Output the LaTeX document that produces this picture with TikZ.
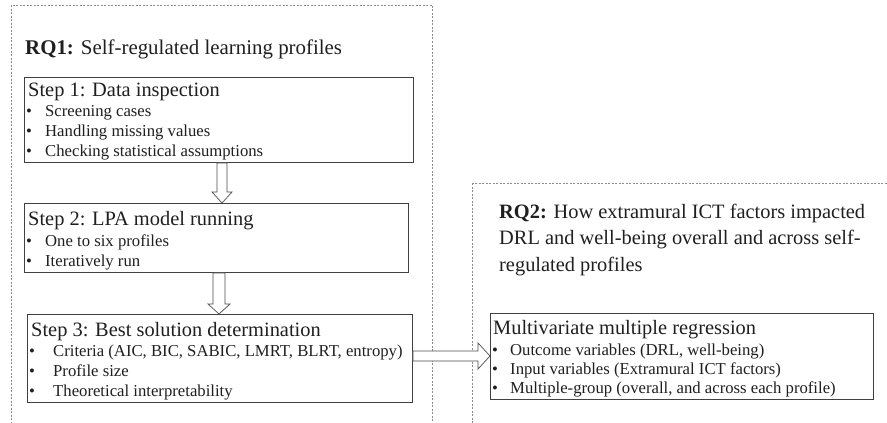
\documentclass[tikz,border=0pt]{standalone}
\usepackage{fontspec}
\setmainfont{Liberation Serif}
\usetikzlibrary{calc}
\begin{document}
\begin{tikzpicture}[x=1pt,y=-1pt,
  stepbox/.style={draw=black!75, line width=0.9pt, inner sep=0pt, anchor=north west},
  regionbox/.style={draw=black!45, line width=0.7pt, dash pattern=on 2pt off 1.5pt},
  txt/.style={anchor=base west, inner sep=0pt, text=black!88},
  rq/.style={txt, font=\fontsize{20.9}{24}\selectfont},
  head/.style={txt, font=\fontsize{20.4}{24}\selectfont},
  item/.style={txt, font=\fontsize{16.7}{20}\selectfont},
  blockarrow/.style={draw=black!70, line width=0.7pt, fill=white}]
\useasboundingbox (0,0) rectangle (887,423);
% region boxes
\draw[regionbox] (11,5) rectangle (432,440);
\draw[regionbox] (472,183) rectangle (900,440);
% RQ1
\node[rq] (rq1) at (25,54) {\textbf{RQ1:} Self-regulated learning profiles};
% step boxes
\node[stepbox, minimum width=389pt, minimum height=85pt] (s1) at (24,77) {};
\node[stepbox, minimum width=384pt, minimum height=69pt] (s2) at (24,203) {};
\node[stepbox, minimum width=385pt, minimum height=88pt] (s3) at (27,314) {};
\node[stepbox, minimum width=383pt, minimum height=86pt] (mr) at (490,313) {};
% step 1 text
\node[head] (s1h) at (28,96) {Step 1: Data inspection};
\node[item] (s1a) at (26,116) {\makebox[19pt][l]{\textbullet}Screening cases};
\node[item] (s1b) at (26,136) {\makebox[19pt][l]{\textbullet}Handling missing values};
\node[item] (s1c) at (26,156) {\makebox[19pt][l]{\textbullet}Checking statistical assumptions};
% step 2 text
\node[head] (s2h) at (28,225) {Step 2: LPA model running};
\node[item] (s2a) at (26,246) {\makebox[19pt][l]{\textbullet}One to six profiles};
\node[item] (s2b) at (26,266) {\makebox[19pt][l]{\textbullet}Iteratively run};
% step 3 text
\node[head] (s3h) at (31,336) {Step 3: Best solution determination};
\node[item] (s3a) at (29,356) {\makebox[24pt][l]{\textbullet}Criteria (AIC, BIC, SABIC, LMRT, BLRT, entropy)};
\node[item] (s3b) at (29,376) {\makebox[24pt][l]{\textbullet}Profile size};
\node[item] (s3c) at (29,396) {\makebox[24pt][l]{\textbullet}Theoretical interpretability};
% RQ2
\node[head] (rq2a) at (499,218) {\textbf{RQ2:} How extramural ICT factors impacted};
\node[head] (rq2b) at (499,244) {DRL and well-being overall and across self-};
\node[head] (rq2c) at (499,271) {regulated profiles};
% MR text
\node[head] (mrh) at (493,334) {Multivariate multiple regression};
\node[item] (mra) at (492,355) {\makebox[18pt][l]{\textbullet}Outcome variables (DRL, well-being)};
\node[item] (mrb) at (492,374) {\makebox[18pt][l]{\textbullet}Input variables (Extramural ICT factors)};
\node[item] (mrc) at (492,393) {\makebox[18pt][l]{\textbullet}Multiple-group (overall, and across each profile)};
% block arrows
\draw[blockarrow] let \p1=(s1.south), \p2=(s2.north) in
  (222-5,\y1) -- (222+5,\y1) -- (222+5,\y2+11pt) -- (222+10,\y2+11pt)
  -- (222,\y2) -- (222-10,\y2+11pt) -- (222-5,\y2+11pt) -- cycle;
\draw[blockarrow] let \p1=(s2.south), \p2=(s3.north) in
  (219-6,\y1) -- (219+6,\y1) -- (219+6,\y2+10pt) -- (219+11,\y2+10pt)
  -- (219,\y2) -- (219-11,\y2+10pt) -- (219-6,\y2+10pt) -- cycle;
\draw[blockarrow] let \p1=(s3.east), \p2=(mr.west) in
  (\x1,-351pt) -- (\x2-12pt,-351pt) -- (\x2-12pt,-343pt) -- (\x2,-356pt)
  -- (\x2-12pt,-369pt) -- (\x2-12pt,-361pt) -- (\x1,-361pt) -- cycle;
\end{tikzpicture}
\end{document}
